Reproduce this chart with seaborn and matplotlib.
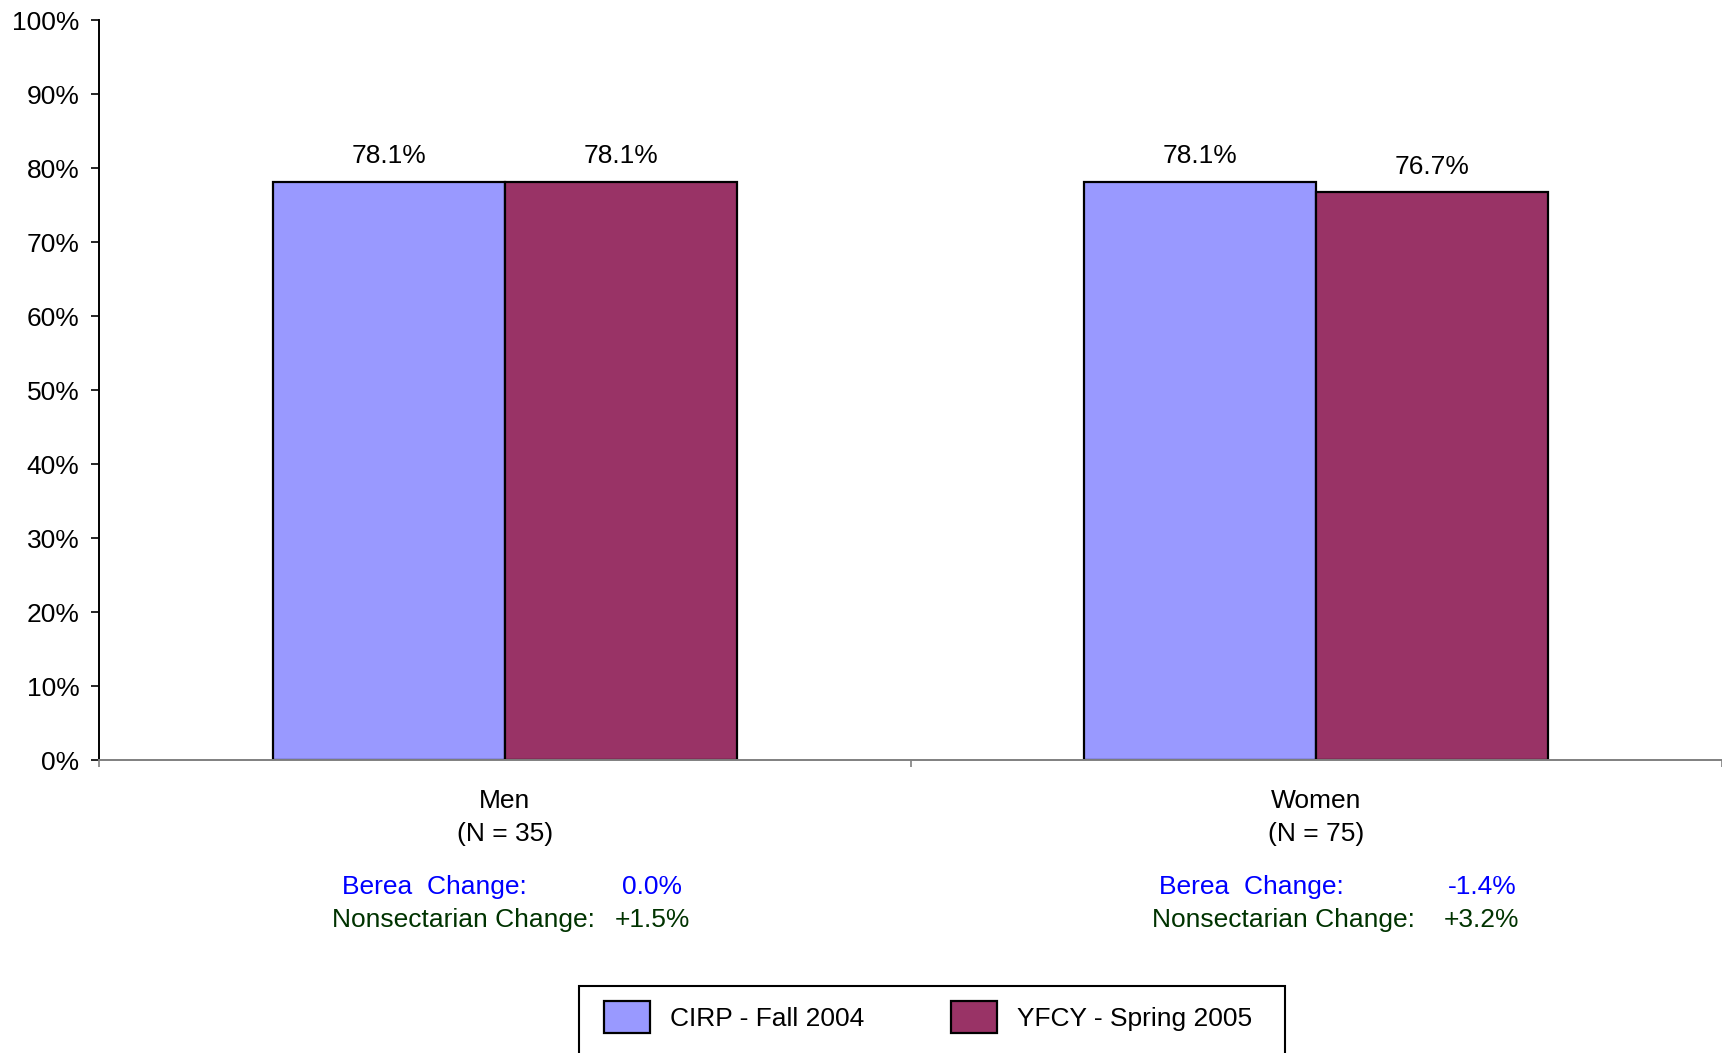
import matplotlib
matplotlib.use("Agg")
import matplotlib.pyplot as plt
import matplotlib.transforms as mtransforms
from matplotlib.patches import Rectangle
from matplotlib.ticker import FixedLocator, FuncFormatter
import pandas as pd
import seaborn as sns

# data
groups = ["Men\n(N = 35)", "Women\n(N = 75)"]
series = ["CIRP - Fall 2004", "YFCY - Spring 2005"]
cirp_values = [78.1, 78.1]
yfcy_values = [78.1, 76.7]
berea_change = ["0.0%", "-1.4%"]
nonsect_change = ["+1.5%", "+3.2%"]
colors = ["#9999FF", "#993366"]

# horizontal offsets of the change notes from each group centre (category units)
label_offsets = [(-0.201, -0.213), (-0.194, -0.202)]
value_offsets = [0.182, 0.204]

df = pd.DataFrame({
    "group": groups * 2,
    "series": [series[0]] * len(groups) + [series[1]] * len(groups),
    "value": cirp_values + yfcy_values,
})

sns.set_style("white")
plt.rcParams["font.family"] = ["Liberation Sans", "DejaVu Sans"]
plt.rcParams["font.size"] = 19
plt.rcParams["text.color"] = "black"
plt.rcParams["xtick.labelcolor"] = "black"
plt.rcParams["ytick.labelcolor"] = "black"

fig = plt.figure(figsize=(17.22, 10.53), dpi=100)
ax = fig.add_axes([99 / 1722, 1 - 760 / 1053, 1 - 99 / 1722, 740 / 1053])

sns.barplot(
    data=df,
    x="group",
    y="value",
    hue="series",
    hue_order=series,
    palette=colors,
    width=0.572,
    edgecolor="black",
    linewidth=1.6,
    saturation=1,
    ax=ax,
)

for container in ax.containers:
    ax.bar_label(container, fmt="%.1f%%", padding=10, fontsize=19, color="black")

handles, labels = ax.get_legend_handles_labels()
ax.get_legend().remove()

ax.set_ylim(0, 100)
ax.set_xlim(-0.5, len(groups) - 0.5)
ax.set_yticks(range(0, 101, 10))
ax.yaxis.set_major_formatter(FuncFormatter(lambda v, p: f"{v:.0f}%"))
ax.tick_params(axis="y", direction="out", length=6, width=1.2, pad=8,
               labelsize=19, left=True, color="black")
ax.tick_params(axis="x", which="major", length=0, pad=21, labelsize=19)
for lbl in ax.get_xticklabels():
    lbl.set_linespacing(1.45)
ax.xaxis.set_minor_locator(FixedLocator([i - 0.5 for i in range(len(groups) + 1)]))
ax.tick_params(axis="x", which="minor", direction="out", length=5,
               width=1.2, color="#808080", bottom=True)
ax.set_xlabel("")
ax.set_ylabel("")

for side in ["top", "right"]:
    ax.spines[side].set_visible(False)
ax.spines["left"].set_color("black")
ax.spines["left"].set_linewidth(1.4)
ax.spines["bottom"].set_color("#808080")
ax.spines["bottom"].set_linewidth(1.4)

# change annotations below each group
trans = mtransforms.blended_transform_factory(ax.transData, ax.transAxes)
for i in range(len(groups)):
    ax.text(i + label_offsets[i][0], -0.172, "Berea  Change:", color="#0000FF",
            ha="left", va="center", fontsize=19, transform=trans)
    ax.text(i + value_offsets[i], -0.172, berea_change[i], color="#0000FF",
            ha="center", va="center", fontsize=19, transform=trans)
    ax.text(i + label_offsets[i][1], -0.216, "Nonsectarian Change:", color="#003300",
            ha="left", va="center", fontsize=19, transform=trans)
    ax.text(i + value_offsets[i], -0.216, nonsect_change[i], color="#003300",
            ha="center", va="center", fontsize=19, transform=trans)

fig.legend(
    handles,
    labels,
    loc="center",
    bbox_to_anchor=(928 / 1722, 1 - 1017 / 1053),
    ncol=2,
    frameon=False,
    fontsize=19,
    handlelength=1.75,
    handleheight=1.45,
    handletextpad=0.75,
    columnspacing=3.3,
)
fig.add_artist(Rectangle((579 / 1722, -0.05), 706 / 1722, (1053 - 986) / 1053 + 0.05,
                         transform=fig.transFigure, fill=False,
                         edgecolor="black", linewidth=1.5, clip_on=False))

fig.savefig("out.png", dpi=100, facecolor="white")
plt.close(fig)
